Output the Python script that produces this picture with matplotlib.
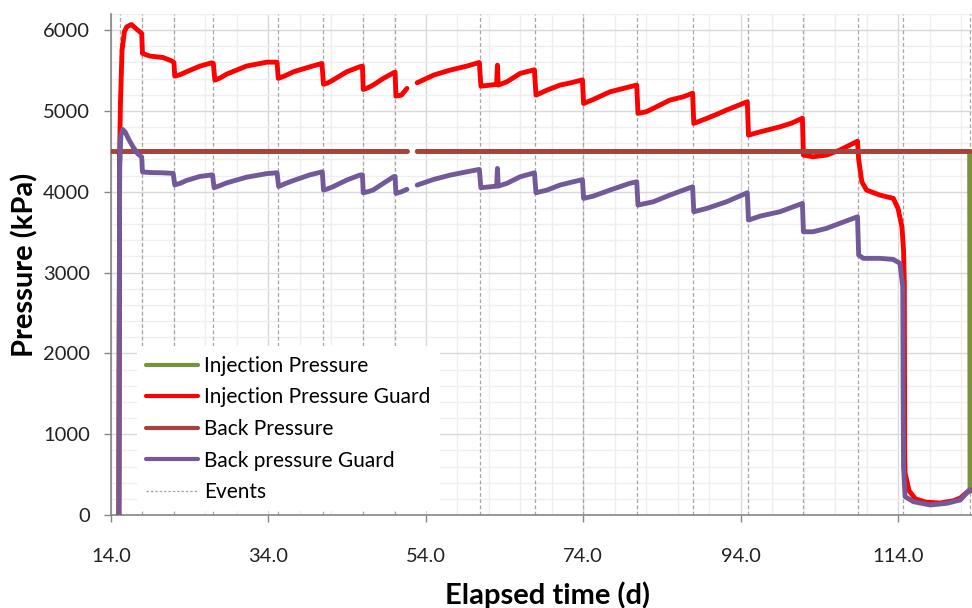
import numpy as np
import matplotlib
matplotlib.use("Agg")
import matplotlib.pyplot as plt
from matplotlib.ticker import MultipleLocator, FixedLocator, FormatStrFormatter
from matplotlib.lines import Line2D

plt.rcParams['font.family'] = ['Lato', 'DejaVu Sans']

nan = np.nan

# Elapsed time (d) and pressure (kPa) for each logged channel
inj_days = [15.0, 15.1, 51.6, nan, 52.9, 123.1, 123.15]
inj_kpa = [0, 4500, 4500, nan, 4500, 4500, 290]

guard_days = [15.0, 15.1, 15.2, 15.4, 15.7, 16.0, 16.6, 17.3, 17.9,
              18.0, 18.96, 20.6, 21.7, 22.0,
              22.1, 22.8, 23.6, 25.3, 26.8, 27.0,
              27.2, 27.9, 28.7, 31.2, 33.8, 35.1,
              35.25, 36.1, 37.2, 39.3, 40.8,
              41.0, 41.5, 42.2, 43.95, 45.6, 45.95,
              46.05, 46.6, 47.3, 48.6, 49.9, 50.1,
              50.2, 50.9, 51.6, nan,
              52.9, 55.0, 57.1, 59.2, 60.8,
              61.0, 62.2, 63.0, 63.1, 63.2, 64.3, 66.0, 67.8,
              68.0, 69.4, 71.05, 72.5, 73.9,
              74.05, 75.3, 77.4, 79.9, 80.8,
              80.96, 82.0, 82.9, 85.0, 86.7, 87.9,
              88.05, 89.7, 91.0, 92.2, 94.85,
              95.0, 96.5, 99.0, 100.5, 101.85,
              101.98, 103.2, 104.9, 106.6, 108.85,
              109.0, 109.4, 110.0, 111.7, 113.4, 114.0, 114.5, 114.7, 114.8,
              114.85, 114.9, 115.4, 116.2, 117.5, 119.3, 121.0, 121.9, 123.1]
guard_kpa = [0, 4500, 5100, 5750, 5980, 6041, 6070, 6008, 5960,
             5712, 5679, 5662, 5620, 5600,
             5431, 5450, 5485, 5555, 5596, 5590,
             5382, 5410, 5456, 5555, 5604, 5604,
             5403, 5435, 5485, 5547, 5588,
             5330, 5345, 5382, 5485, 5547, 5555,
             5266, 5285, 5320, 5403, 5472, 5480,
             5184, 5196, 5279, nan,
             5349, 5444, 5506, 5555, 5600,
             5307, 5320, 5330, 5567, 5320, 5361, 5465, 5510,
             5196, 5258, 5320, 5350, 5385,
             5093, 5143, 5237, 5299, 5320,
             4970, 4990, 5032, 5134, 5175, 5220,
             4846, 4908, 4960, 5011, 5114,
             4701, 4742, 4804, 4850, 4910,
             4454, 4433, 4454, 4516, 4625,
             4400, 4124, 4021, 3959, 3918, 3794, 3567, 3278, 2870,
             800, 520, 300, 200, 160, 148, 175, 210, 309]

back_days = [14.0, 51.6, nan, 52.9, 123.1]
back_kpa = [4500, 4500, nan, 4500, 4500]

back_guard_days = [15.0, 15.1, 15.25, 15.5, 15.8, 16.3, 16.9, 17.4, 17.9,
                   18.0, 19.0, 20.5, 21.9,
                   22.1, 22.8, 23.6, 25.3, 26.9,
                   27.1, 27.8, 28.7, 31.2, 33.8, 35.1,
                   35.3, 36.1, 37.2, 39.3, 40.85,
                   41.0, 41.5, 42.2, 43.95, 45.6, 45.95,
                   46.05, 46.6, 47.3, 48.6, 49.9, 50.1,
                   50.2, 50.9, 51.6, nan,
                   52.9, 55.0, 57.1, 59.2, 60.8,
                   61.0, 62.2, 63.0, 63.1, 63.2, 64.3, 66.0, 67.8,
                   68.0, 69.4, 71.05, 72.5, 73.9,
                   74.05, 75.3, 77.4, 79.9, 80.8,
                   80.96, 82.9, 85.0, 87.9,
                   88.05, 89.7, 92.2, 94.85,
                   95.0, 96.5, 99.0, 101.85,
                   101.98, 103.2, 104.9, 106.6, 108.85,
                   109.0, 109.6, 111.7, 113.4, 114.25, 114.6, 114.65, 114.7,
                   114.9, 115.95, 118.1, 120.2, 121.9, 123.1]
back_guard_kpa = [0, 4300, 4700, 4770, 4740, 4640, 4540, 4470, 4430,
                  4245, 4238, 4235, 4228,
                  4085, 4105, 4140, 4190, 4210,
                  4050, 4075, 4110, 4180, 4225, 4235,
                  4065, 4100, 4140, 4210, 4247,
                  4021, 4035, 4062, 4145, 4206, 4210,
                  3988, 4000, 4021, 4104, 4186, 4190,
                  3980, 4000, 4030, nan,
                  4083, 4153, 4206, 4247, 4277,
                  4050, 4062, 4070, 4289, 4070, 4104, 4186, 4235,
                  3988, 4021, 4083, 4118, 4150,
                  3918, 3947, 4021, 4104, 4124,
                  3835, 3876, 3959, 4062,
                  3753, 3794, 3876, 3988,
                  3650, 3699, 3753, 3856,
                  3505, 3505, 3547, 3609, 3690,
                  3217, 3176, 3176, 3163, 3114, 2825, 1500, 600,
                  227, 165, 124, 145, 186, 309]

event_days = [15.1, 17.9, 22.0, 27.0, 35.2, 40.9, 46.0, 50.1, 60.9, 67.9,
              74.0, 80.8, 88.0, 94.9, 101.9, 108.9, 114.6, 123.1]

x_ticks = [14, 34, 54, 74, 94, 114]
y_ticks = [0, 1000, 2000, 3000, 4000, 5000, 6000]

C_INJ = '#77933C'
C_GUARD = '#FF0000'
C_BACK = '#A8423F'
C_BGUARD = '#725A9A'
C_EVENT = '#A6A6A6'
C_AXIS = '#868686'

fig = plt.figure(figsize=(9.72, 6.08), dpi=100)
ax = fig.add_axes([111 / 972, 93 / 608, 861 / 972, 501 / 608])

ax.set_xlim(14, 123.4)
ax.set_ylim(0, 6200)

# grid
ax.xaxis.set_major_locator(FixedLocator(x_ticks))
ax.xaxis.set_minor_locator(MultipleLocator(4, offset=2))
ax.yaxis.set_major_locator(FixedLocator(y_ticks))
ax.yaxis.set_minor_locator(MultipleLocator(200))
ax.xaxis.set_major_formatter(FormatStrFormatter('%.1f'))
ax.grid(which='major', color='#D9D9D9', linewidth=1.0, zorder=0)
ax.grid(which='minor', color='#EFEFEF', linewidth=1.0, zorder=0)
ax.set_axisbelow(True)

# event markers
for d in event_days:
    ax.axvline(d, color=C_EVENT, linewidth=0.9, linestyle=(0, (3, 2)), zorder=1)

lw = 3.5
kw = dict(linewidth=lw, solid_capstyle='round', solid_joinstyle='round', zorder=3)
l_inj, = ax.plot(inj_days, inj_kpa, color=C_INJ, label='Injection Pressure', **kw)
l_guard, = ax.plot(guard_days, guard_kpa, color=C_GUARD, label='Injection Pressure Guard', **kw)
l_back, = ax.plot(back_days, back_kpa, color=C_BACK, label='Back Pressure', **kw)
l_bguard, = ax.plot(back_guard_days, back_guard_kpa, color=C_BGUARD, label='Back pressure Guard', **kw)
h_event = Line2D([], [], color=C_EVENT, linewidth=0.9, linestyle=(0, (2, 1.5)), label='Events')

for s in ['top', 'right']:
    ax.spines[s].set_visible(False)
for s in ['left', 'bottom']:
    ax.spines[s].set_color(C_AXIS)
    ax.spines[s].set_linewidth(1.2)

ax.tick_params(axis='both', which='major', direction='out', length=5, width=1.0,
               color=C_AXIS, labelsize=14.5, labelcolor='#222222')
ax.tick_params(axis='x', which='major', pad=18.5)
ax.tick_params(axis='y', which='major', pad=10)
ax.tick_params(which='minor', length=0)

ax.set_xlabel('Elapsed time (d)', fontsize=21, fontweight='bold')
ax.set_ylabel('Pressure (kPa)', fontsize=21, fontweight='bold')
ax.xaxis.set_label_coords(0.507, -0.132)
ax.yaxis.set_label_coords(-0.084, 0.5)

leg = ax.legend(handles=[l_inj, l_guard, l_back, l_bguard, h_event],
                loc='lower left', bbox_to_anchor=(0.03, 0.007),
                fontsize=15, frameon=True, fancybox=False,
                handlelength=2.5, handletextpad=0.28, labelspacing=0.555,
                borderpad=0.45, borderaxespad=0.0)
leg.get_frame().set_facecolor('white')
leg.get_frame().set_edgecolor('none')
leg.get_frame().set_alpha(1.0)
leg.set_zorder(5)
for line in leg.get_lines()[:4]:
    line.set_linewidth(3.0)

fig.savefig('out.png', dpi=100)
